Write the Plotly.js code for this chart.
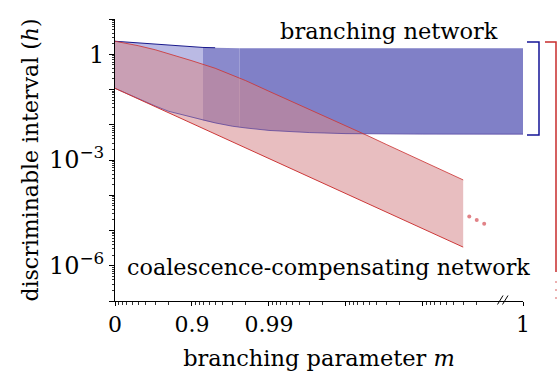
<!DOCTYPE html>
<html>
<head>
<meta charset="utf-8">
<script src="https://cdn.plot.ly/plotly-3.0.1.min.js"></script>
<style>html,body{margin:0;padding:0;background:#fff;}#chart{width:557px;height:373px;}</style>
</head>
<body>
<div id="chart"></div>
<script>
// ---- data ----
// branching network band
const mBlue       = [0, 0.5, 0.7, 0.8, 0.9, 0.928, 0.95, 0.97, 0.976, 0.98, 0.99, 0.995, 0.997, 0.999, 0.9997, 0.9999, 1];
const hBlueUpper  = [2.34, 2.08, 1.90, 1.78, 1.60, 1.56, 1.53, 1.50, 1.49, 1.485, 1.48, 1.48, 1.48, 1.48, 1.48, 1.48, 1.48];
const hBlueLower  = [0.108, 0.0545, 0.034, 0.024, 0.0162, 0.0133, 0.0113, 0.0091, 0.0085, 0.0081, 0.0069, 0.0063, 0.0060, 0.0056, 0.0054, 0.0054, 0.0054];
// coalescence-compensating network band
const mRed        = [0, 0.5, 0.7, 0.8, 0.9, 0.95, 0.97, 0.98, 0.99, 0.995, 0.997, 0.999, 0.9995, 0.9997, 0.9999, 0.99995, 0.99997];
const hRedUpper   = [2.34, 1.75, 1.34, 1.04, 0.653, 0.40, 0.253, 0.178, 0.089, 0.0453, 0.0274, 0.0093, 0.00468, 0.00277, 0.00091, 0.000453, 0.000272];
const hRedLower   = [0.108, 0.0542, 0.0326, 0.0218, 0.0109, 0.00547, 0.00329, 0.0022, 0.0011, 0.000552, 0.000332, 0.000111, 0.0000557, 0.0000335, 0.0000112, 0.00000562, 0.00000338];
// continuation dots
const mDots = [0.999975, 0.99998, 0.999984];
const hDots = [0.000025, 0.000020, 0.0000155];
// ticks
const xLabelM    = [0, 0.9, 0.99, 1];
const xLabelText = ['0', '0.9', '0.99', '1'];
const xPlainM    = [0.999, 0.9999];
const yLabelVals = [1, 0.001, 1e-6];
const yLabelText = ['1', '10<sup>\u22123</sup>', '10<sup>\u22126</sup>'];
const yPlainVals = [10, 0.1, 0.01, 1e-4, 1e-5, 1e-7];

// ---- axis mapping: log axis of (1 - m), with m = 1 shown past the axis break ----
const AXIS_END = Math.pow(10, -5.3);
function pos(m) { return m >= 1 ? AXIS_END : 1 - m; }

function band(ms, up, lo, i0, i1, color) {
  const xs = [], ys = [];
  for (let i = i0; i <= i1; i++) { xs.push(pos(ms[i])); ys.push(up[i]); }
  for (let i = i1; i >= i0; i--) { xs.push(pos(ms[i])); ys.push(lo[i]); }
  return {x: xs, y: ys, mode: 'lines', fill: 'toself', fillcolor: color,
          line: {width: 0}, hoverinfo: 'skip', showlegend: false};
}
function line(ms, hs, i0, i1, color, w) {
  return {x: ms.slice(i0, i1 + 1).map(pos), y: hs.slice(i0, i1 + 1), mode: 'lines',
          line: {color: color, width: w}, hoverinfo: 'skip', showlegend: false};
}

const nB = mBlue.length - 1, nR = mRed.length - 1;
const traces = [
  band(mBlue, hBlueUpper, hBlueLower, 0, 5, 'rgb(186,186,228)'),
  band(mBlue, hBlueUpper, hBlueLower, 5, 8, 'rgb(138,138,204)'),
  band(mBlue, hBlueUpper, hBlueLower, 8, nB, 'rgb(128,128,199)'),
  band(mRed, hRedUpper, hRedLower, 0, nR, 'rgba(213,137,140,0.55)'),
  line(mBlue, hBlueUpper, 0, 6, 'rgb(25,25,140)', 1),
  line(mBlue, hBlueLower, 0, nB, 'rgba(70,50,150,0.8)', 0.8),
  line(mRed, hRedUpper, 0, nR, 'rgba(205,55,55,0.85)', 1),
  line(mRed, hRedLower, 0, nR, 'rgb(205,55,55)', 1),
  {x: mDots.map(pos), y: hDots, mode: 'markers', marker: {color: 'rgb(225,130,135)', size: 4},
   hoverinfo: 'skip', showlegend: false},
  // invisible carrier for the unlabeled-tick overlay axes
  {x: [1], y: [1], xaxis: 'x2', yaxis: 'y2', mode: 'markers', marker: {opacity: 0},
   hoverinfo: 'skip', showlegend: false}
];

const xMinor = [];
for (let k = 1; k <= 5; k++) for (let j = 2; j <= 9; j++) xMinor.push(j * Math.pow(10, -k));
const yMinor = [];
for (let k = -7; k <= 0; k++) for (let j = 2; j <= 9; j++) yMinor.push(j * Math.pow(10, k));

const FONT = 'DejaVu Serif';
const pw = 408, ph = 282;
function px(x) { return (x - 115) / pw; }
function py(y) { return (301 - y) / ph; }

const shapes = [
  // brackets
  {type: 'path', xref: 'paper', yref: 'paper',
   path: `M ${px(527)},${py(42)} L ${px(539)},${py(42)} L ${px(539)},${py(135)} L ${px(527)},${py(135)}`,
   line: {color: 'rgb(20,20,150)', width: 1.5}},
  {type: 'path', xref: 'paper', yref: 'paper',
   path: `M ${px(545)},${py(42)} L ${px(556)},${py(42)} L ${px(556)},${py(272)}`,
   line: {color: 'rgb(200,45,45)', width: 1.5}},
  // axis break
  {type: 'line', xref: 'paper', yref: 'paper', x0: px(497.5), y0: py(304.5), x1: px(503), y1: py(295.5),
   line: {color: 'black', width: 1}},
  {type: 'line', xref: 'paper', yref: 'paper', x0: px(502.5), y0: py(304.5), x1: px(508), y1: py(295.5),
   line: {color: 'black', width: 1}}
];
[282, 290, 298].forEach(y => shapes.push({type: 'circle', xref: 'paper', yref: 'paper',
  x0: px(555), x1: px(557), y0: py(y + 1), y1: py(y - 1),
  fillcolor: 'rgb(230,150,150)', line: {width: 0}}));

const minorX = {tickmode: 'array', tickvals: xMinor, ticks: 'outside', ticklen: 2.5, tickwidth: 0.8, tickcolor: 'black', showgrid: false};
const minorY = {tickmode: 'array', tickvals: yMinor, ticks: 'outside', ticklen: 2.5, tickwidth: 0.8, tickcolor: 'black', showgrid: false};

const layout = {
  width: 557, height: 373,
  margin: {l: 115, r: 34, t: 19, b: 72, pad: 0},
  paper_bgcolor: 'white', plot_bgcolor: 'white',
  font: {family: FONT, size: 22, color: 'black'},
  showlegend: false,
  xaxis: {
    type: 'log', range: [0, -5.3], showgrid: false, zeroline: false,
    showline: true, linecolor: 'black', linewidth: 1,
    ticks: 'outside', ticklen: 4, tickwidth: 1, tickcolor: 'black',
    tickmode: 'array', tickvals: xLabelM.map(pos), ticktext: xLabelText,
    tickfont: {family: FONT, size: 22},
    minor: minorX,
    title: {text: 'branching parameter <i>m</i>', font: {family: FONT, size: 22.5}, standoff: 13}
  },
  xaxis2: {
    type: 'log', range: [0, -5.3], overlaying: 'x', anchor: 'y2', side: 'bottom',
    showgrid: false, zeroline: false, showline: false, showticklabels: false,
    ticks: 'outside', ticklen: 4, tickwidth: 1, tickcolor: 'black',
    tickmode: 'array', tickvals: xPlainM.map(pos)
  },
  yaxis: {
    type: 'log', range: [-7, 1], showgrid: false, zeroline: false,
    showline: true, linecolor: 'black', linewidth: 1,
    ticks: 'outside', ticklen: 5, tickwidth: 1, tickcolor: 'black',
    tickmode: 'array', tickvals: yLabelVals, ticktext: yLabelText,
    tickfont: {family: FONT, size: 24},
    minor: minorY,
    title: {text: 'discriminable interval (<i>h</i>)', font: {family: FONT, size: 22}, standoff: 4}
  },
  yaxis2: {
    type: 'log', range: [-7, 1], overlaying: 'y', anchor: 'x2', side: 'left',
    showgrid: false, zeroline: false, showline: false, showticklabels: false,
    ticks: 'outside', ticklen: 5, tickwidth: 1, tickcolor: 'black',
    tickmode: 'array', tickvals: yPlainVals
  },
  shapes: shapes,
  annotations: [
    {text: 'branching network', xref: 'paper', yref: 'paper', x: px(389), y: py(31),
     xanchor: 'center', yanchor: 'middle', showarrow: false, font: {family: FONT, size: 22.5}},
    {text: 'coalescence-compensating network', xref: 'paper', yref: 'paper', x: px(328), y: py(267),
     xanchor: 'center', yanchor: 'middle', showarrow: false, font: {family: FONT, size: 22.3}}
  ]
};

Plotly.newPlot('chart', traces, layout, {staticPlot: true, displayModeBar: false});
</script>
</body>
</html>
